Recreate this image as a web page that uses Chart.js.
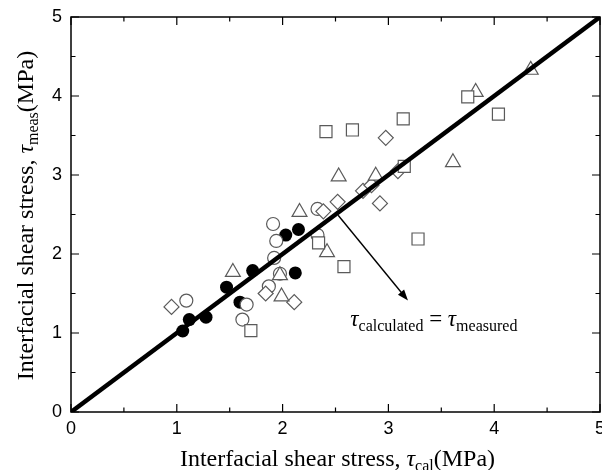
<!DOCTYPE html>
<html>
<head>
<meta charset="utf-8">
<script src="https://cdn.jsdelivr.net/npm/chart.js@4/dist/chart.umd.min.js"></script>
<style>
  html, body { margin: 0; padding: 0; background: #fff; }
  #wrap { width: 602px; height: 470px; }
</style>
</head>
<body>
<div id="wrap"><canvas id="myChart" width="602" height="470"></canvas></div>
<script>
let tickValues = [0, 1, 2, 3, 4, 5];

let squaresX = [2.41, 2.66, 3.14, 3.75, 4.04, 3.15, 1.70, 2.34, 2.58, 3.28];
let squaresY = [3.55, 3.57, 3.71, 3.99, 3.77, 3.11, 1.03, 2.14, 1.84, 2.19];

let trianglesX = [1.53, 2.16, 1.975, 1.99, 2.42, 2.53, 2.88, 3.61, 3.825, 4.345];
let trianglesY = [1.77, 2.53, 1.73, 1.46, 2.02, 2.98, 2.99, 3.16, 4.05, 4.33];

let diamondsX = [0.95, 1.84, 2.11, 2.385, 2.52, 2.76, 2.84, 2.92, 2.975, 3.09];
let diamondsY = [1.33, 1.50, 1.39, 2.54, 2.66, 2.80, 2.87, 2.64, 3.47, 3.05];

let circlesX = [1.09, 1.62, 1.66, 1.91, 1.94, 1.92, 1.975, 1.87, 2.33, 2.33];
let circlesY = [1.41, 1.17, 1.36, 2.38, 2.165, 1.95, 1.75, 1.59, 2.57, 2.24];

let filledX = [1.056, 1.118, 1.276, 1.47, 1.717, 1.597, 2.03, 2.15, 2.12];
let filledY = [1.025, 1.17, 1.20, 1.58, 1.79, 1.39, 2.24, 2.31, 1.76];

let lineX = [0, 5];
let lineY = [0, 5];

// arrow from the line to the label (data units)
let arrowFrom = [2.525, 2.49];
let arrowTo = [3.185, 1.41];
let labelAt = [2.64, 1.085];

let serif = "'Liberation Serif', 'Times New Roman', serif";
let sans = "'Liberation Sans', Arial, sans-serif";
let markerGray = '#5a5a5a';

function pts(xs, ys) {
    return xs.map((x, i) => ({ x: x, y: ys[i] }));
}

function richText(ctx, parts, x, y, align) {
    let total = 0;
    parts.forEach(p => { ctx.font = p.f; total += ctx.measureText(p.t).width; });
    let cx = align === 'center' ? x - total / 2 : x;
    ctx.textBaseline = 'alphabetic';
    ctx.textAlign = 'left';
    parts.forEach(p => {
        ctx.font = p.f;
        ctx.fillText(p.t, cx, y + (p.dy || 0));
        cx += ctx.measureText(p.t).width;
    });
}

let framePlugin = {
    id: 'frame',
    afterDraw(chart) {
        let ctx = chart.ctx;
        let a = chart.chartArea;
        let xs = chart.scales.x, ys = chart.scales.y;
        ctx.save();
        ctx.strokeStyle = '#000';
        ctx.lineWidth = 1.5;
        ctx.strokeRect(a.left, a.top, a.right - a.left, a.bottom - a.top);
        ctx.lineWidth = 1.2;
        ctx.beginPath();
        for (let v = 0; v <= 5; v += 0.5) {
            let len = Number.isInteger(v) ? 8 : 4.5;
            let px = xs.getPixelForValue(v);
            ctx.moveTo(px, a.bottom); ctx.lineTo(px, a.bottom - len);
            ctx.moveTo(px, a.top); ctx.lineTo(px, a.top + len);
            let py = ys.getPixelForValue(v);
            ctx.moveTo(a.left, py); ctx.lineTo(a.left + len, py);
            ctx.moveTo(a.right, py); ctx.lineTo(a.right - len, py);
        }
        ctx.stroke();

        // annotation arrow
        let x1 = xs.getPixelForValue(arrowFrom[0]), y1 = ys.getPixelForValue(arrowFrom[1]);
        let x2 = xs.getPixelForValue(arrowTo[0]), y2 = ys.getPixelForValue(arrowTo[1]);
        let ang = Math.atan2(y2 - y1, x2 - x1);
        let head = 11;
        ctx.lineWidth = 1.4;
        ctx.beginPath();
        ctx.moveTo(x1, y1);
        ctx.lineTo(x2 - Math.cos(ang) * head * 0.8, y2 - Math.sin(ang) * head * 0.8);
        ctx.stroke();
        ctx.fillStyle = '#000';
        ctx.beginPath();
        ctx.moveTo(x2, y2);
        ctx.lineTo(x2 - head * Math.cos(ang) + 4 * Math.sin(ang), y2 - head * Math.sin(ang) - 4 * Math.cos(ang));
        ctx.lineTo(x2 - head * Math.cos(ang) - 4 * Math.sin(ang), y2 - head * Math.sin(ang) + 4 * Math.cos(ang));
        ctx.closePath();
        ctx.fill();

        // annotation label
        let lx = xs.getPixelForValue(labelAt[0]), ly = ys.getPixelForValue(labelAt[1]);
        richText(ctx, [
            { t: 'τ', f: 'italic 23px ' + serif },
            { t: 'calculated', f: '16px ' + serif, dy: 5 },
            { t: ' = ', f: '23px ' + serif },
            { t: 'τ', f: 'italic 23px ' + serif },
            { t: 'measured', f: '16px ' + serif, dy: 5 }
        ], lx, ly, 'left');

        // axis titles
        richText(ctx, [
            { t: 'Interfacial shear stress, ', f: '24px ' + serif },
            { t: 'τ', f: 'italic 24px ' + serif },
            { t: 'cal', f: '16px ' + serif, dy: 5 },
            { t: '(MPa)', f: '24px ' + serif }
        ], (a.left + a.right) / 2 + 2, 466, 'center');

        ctx.translate(33, (a.top + a.bottom) / 2 + 1);
        ctx.rotate(-Math.PI / 2);
        richText(ctx, [
            { t: 'Interfacial shear stress, ', f: '24px ' + serif },
            { t: 'τ', f: 'italic 24px ' + serif },
            { t: 'meas', f: '16px ' + serif, dy: 5 },
            { t: '(MPa)', f: '24px ' + serif }
        ], 0, 0, 'center');
        ctx.restore();
    }
};

function openSet(label, data, style, radius, order) {
    return {
        type: 'scatter',
        label: label,
        data: data,
        pointStyle: style,
        pointRadius: radius,
        pointHoverRadius: radius,
        pointBorderWidth: 1.2,
        pointBorderColor: markerGray,
        pointBackgroundColor: '#ffffff',
        order: order
    };
}

let chart = new Chart(document.getElementById('myChart').getContext('2d'), {
    type: 'scatter',
    data: {
        datasets: [
            {
                type: 'line',
                label: 'y = x',
                data: pts(lineX, lineY),
                borderColor: '#000',
                borderWidth: 4.5,
                pointRadius: 0,
                fill: false,
                order: 0
            },
            openSet('squares', pts(squaresX, squaresY), 'rect', 8.5, 1),
            openSet('triangles', pts(trianglesX, trianglesY), 'triangle', 8.6, 2),
            openSet('diamonds', pts(diamondsX, diamondsY), 'rectRot', 7.5, 3),
            openSet('circles', pts(circlesX, circlesY), 'circle', 6.5, 4),
            {
                type: 'scatter',
                label: 'filled',
                data: pts(filledX, filledY),
                pointStyle: 'circle',
                pointRadius: 6.5,
                pointBorderWidth: 0,
                pointBackgroundColor: '#000',
                order: 5
            }
        ]
    },
    options: {
        responsive: false,
        animation: false,
        events: [],
        layout: { autoPadding: false, padding: { left: 0, right: 2, top: 17, bottom: 0 } },
        plugins: { legend: { display: false }, tooltip: { enabled: false } },
        scales: {
            x: {
                type: 'linear',
                min: 0,
                max: 5,
                afterBuildTicks(s) { s.ticks = tickValues.map(v => ({ value: v })); },
                ticks: { color: '#000', font: { family: sans, size: 18 }, padding: 6, maxRotation: 0 },
                grid: { display: false, drawTicks: false },
                border: { display: false },
                afterFit(s) { s.height = 58; s.paddingLeft = 0; s.paddingRight = 0; }
            },
            y: {
                type: 'linear',
                min: 0,
                max: 5,
                afterBuildTicks(s) { s.ticks = tickValues.map(v => ({ value: v })); },
                ticks: { color: '#000', font: { family: sans, size: 18 }, padding: 9 },
                grid: { display: false, drawTicks: false },
                border: { display: false },
                afterFit(s) { s.width = 71; s.paddingTop = 0; s.paddingBottom = 0; }
            }
        }
    },
    plugins: [framePlugin]
});
</script>
</body>
</html>
